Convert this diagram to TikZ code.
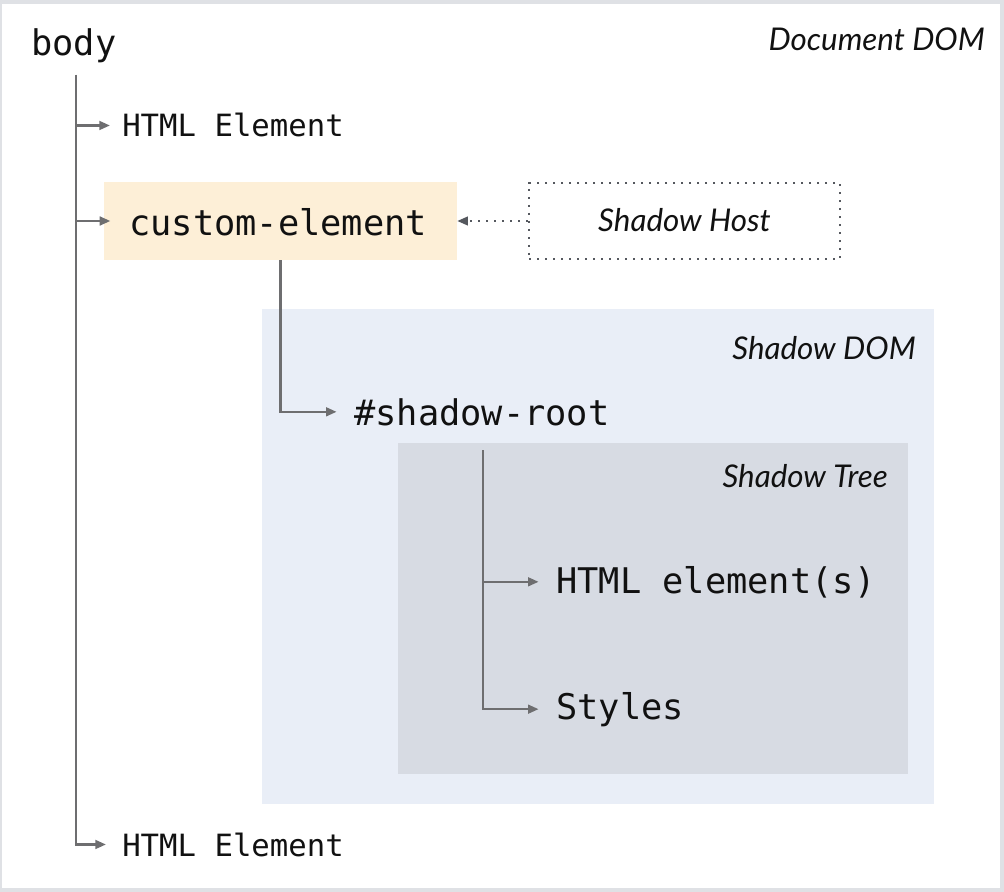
\documentclass[tikz,border=0pt]{standalone}
\usepackage{fontspec}
\setmonofont{DejaVu Sans Mono}
\newfontfamily\labelfont{Lato}
\usetikzlibrary{arrows.meta}
\definecolor{framegrey}{HTML}{DFE1E5}
\definecolor{domfill}{HTML}{E9EEF7}
\definecolor{treefill}{HTML}{D7DBE3}
\definecolor{hostfill}{HTML}{FDEFD7}
\definecolor{linegrey}{HTML}{6E6E70}
\definecolor{dotgrey}{HTML}{55585E}
\definecolor{ink}{HTML}{111111}
\tikzset{
  mono/.style={font=\ttfamily\fontsize{26.5}{30}\selectfont, text=ink, inner sep=0pt, anchor=base west},
  monosmall/.style={font=\ttfamily\fontsize{23}{27}\selectfont, text=ink, inner sep=0pt, anchor=base west},
  region/.style={font=\labelfont\itshape\fontsize{23.5}{28}\selectfont, text=ink, inner sep=0pt},
  treeline/.style={draw=linegrey, line width=1.9pt},
  arr/.style={draw=linegrey, line width=1.9pt, -{Triangle[length=8pt,width=6.5pt]}},
  dotarr/.style={draw=dotgrey, line width=1.6pt, dash pattern=on 1.6pt off 4.4pt, -{Triangle[length=8pt,width=6.5pt]}},
  hostbox/.style={draw=dotgrey, line width=1.6pt, dash pattern=on 1.6pt off 4.4pt, minimum width=233.25pt, minimum height=57pt, inner sep=0pt},
  cebox/.style={fill=hostfill, minimum width=264.75pt, minimum height=58.5pt, inner sep=0pt},
}
\begin{document}
\begin{tikzpicture}[x=0.75pt,y=-0.75pt]
\useasboundingbox (0,0) rectangle (1004,892);
\fill[framegrey] (0,0) rectangle (1004,892);
\fill[white] (2,4) rectangle (1000,888);
\fill[domfill] (262,309) rectangle (934,804);
\fill[treefill] (398,443) rectangle (908,774);

% labels
\node[region, anchor=base east] (docdom) at (985,51) {Document DOM};
\node[region, anchor=base east] (shadowdom) at (916,359) {Shadow DOM};
\node[region, anchor=base east] (shadowtree) at (888,487) {Shadow Tree};

% nodes
\node[mono] (body) at (31,56) {body};
\node[monosmall] (html1) at (122,137) {HTML Element};
\node[cebox] (ce) at (280.5,221) {};
\node[mono] (cetext) at (129,235) {custom-element};
\node[hostbox] (host) at (684.5,221) {};
\node[region, anchor=base] (hosttext) at (684.5,231) {Shadow Host};
\node[mono] (root) at (354,425) {\#shadow-root};
\node[mono] (htmlel) at (556,593) {HTML element(s)};
\node[mono] (styles) at (556,719) {Styles};
\node[monosmall] (html2) at (122,856) {HTML Element};

% coordinates
\coordinate (trunktop) at (76,75);
\coordinate (subtop) at (483,450);

% trunk
\draw[treeline] (trunktop) -- (trunktop |- html2.west);
\draw[arr] (trunktop |- html1.west) -- ([xshift=-9pt]html1.west);
\draw[arr] (trunktop |- ce.west) -- ([xshift=5pt]ce.west);
\draw[arr] (trunktop) |- ([xshift=-12pt]html2.west);

% shadow host link
\draw[dotarr] (host.west) -- (ce.east);

% shadow root
\draw[arr] (ce.south) |- ([xshift=-13pt]root.west);

% shadow tree
\draw[arr] (subtop |- htmlel.west) -- ([xshift=-13pt]htmlel.west);
\draw[arr] (subtop) |- ([xshift=-13pt]styles.west);
\end{tikzpicture}
\end{document}
